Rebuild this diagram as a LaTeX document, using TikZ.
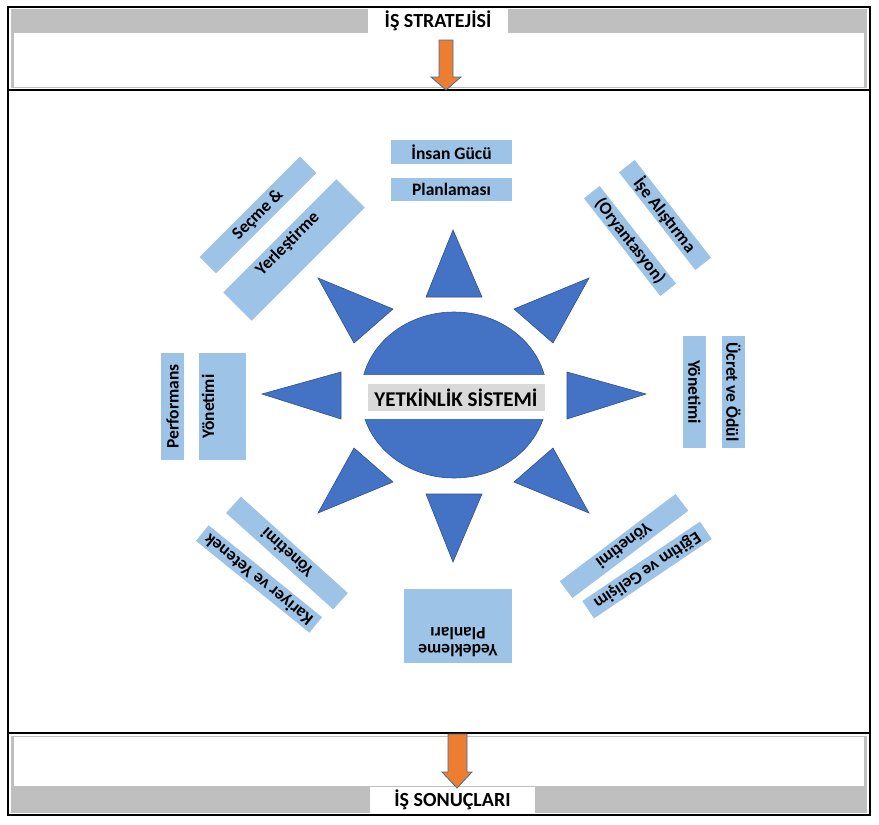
\documentclass[tikz,border=0pt]{standalone}
\usepackage{fontspec}
\setmainfont{Carlito}
\definecolor{sunblue}{HTML}{4472C4}
\definecolor{sunline}{HTML}{2F528F}
\definecolor{labelblue}{HTML}{9DC3E6}
\definecolor{bandgrey}{HTML}{BFBFBF}
\definecolor{boxgrey}{HTML}{D9D9D9}
\definecolor{arroworange}{HTML}{ED7D31}
\definecolor{arrowline}{HTML}{41719C}
\begin{document}
\begin{tikzpicture}[x=1pt,y=-1pt,
        lbl/.style={fill=labelblue,inner sep=0pt,font=\fontsize{17.5}{17}\selectfont\bfseries},
        ray/.style={fill=sunblue,draw=sunline,line width=0.6pt},
        flow/.style={fill=arroworange,draw=arrowline,line width=0.8pt},
        title/.style={fill=white,inner sep=0pt,font=\fontsize{20}{22}\selectfont\bfseries}]
        \useasboundingbox (0,0) rectangle (879,825);
        %% Frame
        \fill[white] (0,0) rectangle (879,825);
        \fill[bandgrey] (11,9) rectangle (867,88);
        \fill[white] (14,33) rectangle (864,87);
        \fill[bandgrey] (11,736) rectangle (867,813);
        \fill[white] (14,737) rectangle (864,786);
        \draw[line width=1.2pt] (8,7) rectangle (870,815);
        \draw[line width=2.4pt] (8,90) -- (870,90);
        \draw[line width=2.4pt] (8,733) -- (870,733);
        \node[title,minimum width=140,minimum height=24] (strategy) at (438,21) {İŞ STRATEJİSİ};
        \node[title,minimum width=165,minimum height=26] (results) at (452.5,800) {İŞ SONUÇLARI};
        %% Arrows
        \draw[flow] (439,40) -- (453,40) -- (453,77) -- (461,77) -- (446,90) -- (431,77) -- (439,77) -- cycle;
        \draw[flow] (448,734) -- (467,734) -- (467,772) -- (472,772) -- (457,788) -- (442,772) -- (448,772) -- cycle;
        %% Sun rays
        \filldraw[ray] (453,230) -- (482,297) -- (426,297) -- cycle;
        \filldraw[ray] (453,562) -- (482,494) -- (426,494) -- cycle;
        \filldraw[ray] (262,394) -- (341,372) -- (341,419) -- cycle;
        \filldraw[ray] (646,394) -- (567,372) -- (567,419) -- cycle;
        \filldraw[ray] (318,278) -- (393,309) -- (354,343) -- cycle;
        \filldraw[ray] (589,278) -- (514,309) -- (553,343) -- cycle;
        \filldraw[ray] (318,513) -- (354,448) -- (393,482) -- cycle;
        \filldraw[ray] (589,513) -- (553,448) -- (514,482) -- cycle;
        %% Core
        \filldraw[ray] (454,395) ellipse [x radius=93, y radius=83];
        \fill[white] (356,375) rectangle (552,419);
        \node[fill=boxgrey,inner sep=0pt,minimum width=177,minimum height=27,
            font=\fontsize{21}{23}\selectfont\bfseries] (core) at (456,397.5) {YETKİNLİK SİSTEMİ};
        %% Labels
        \node[lbl,minimum width=121,minimum height=24] (hrp) at (451.5,152) {İnsan Gücü};
        \node[lbl,minimum width=121,minimum height=23] (hrplan) at (451.5,189.5) {Planlaması};
        \node[lbl,rotate=45,minimum width=142,minimum height=23] (select) at (258,215) {Seçme \&};
        \node[lbl,rotate=45,minimum width=160,text height=16,text depth=24] (place) at (294,250) {Yerleştirme};
        \node[lbl,rotate=-52,minimum width=124,minimum height=20] (induct) at (665,215) {İşe Alıştırma};
        \node[lbl,rotate=-52,minimum width=124,minimum height=20] (orient) at (630,241) {(Oryantasyon)};
        \node[lbl,rotate=-90,minimum width=112,minimum height=23] (pay) at (733.5,392) {Ücret ve Ödül};
        \node[lbl,rotate=-90,minimum width=112,minimum height=23] (paymgmt) at (694.5,392) {Yönetimi};
        \node[lbl,rotate=217,minimum width=145,minimum height=21] (trainmgmt) at (624,546) {Yönetimi};
        \node[lbl,rotate=214,minimum width=142,minimum height=21] (train) at (647,570) {Eğitim ve Gelişim};
        \node[lbl,rotate=180,align=center,minimum width=108,text height=36,text depth=38] (succession) at (458,626) {Yedekleme\\Planları};
        \node[lbl,rotate=138,minimum width=144,minimum height=22] (careermgmt) at (287,553) {Yönetimi};
        \node[lbl,rotate=141,minimum width=146,minimum height=20] (career) at (259,579) {Kariyer ve Yetenek};
        \node[lbl,rotate=90,minimum width=107,text height=15,text depth=32] (perfmgmt) at (222.5,406.5) {Yönetimi};
        \node[lbl,rotate=90,minimum width=107,minimum height=23] (perf) at (172.5,406.5) {Performans};
    \end{tikzpicture}
\end{document}
